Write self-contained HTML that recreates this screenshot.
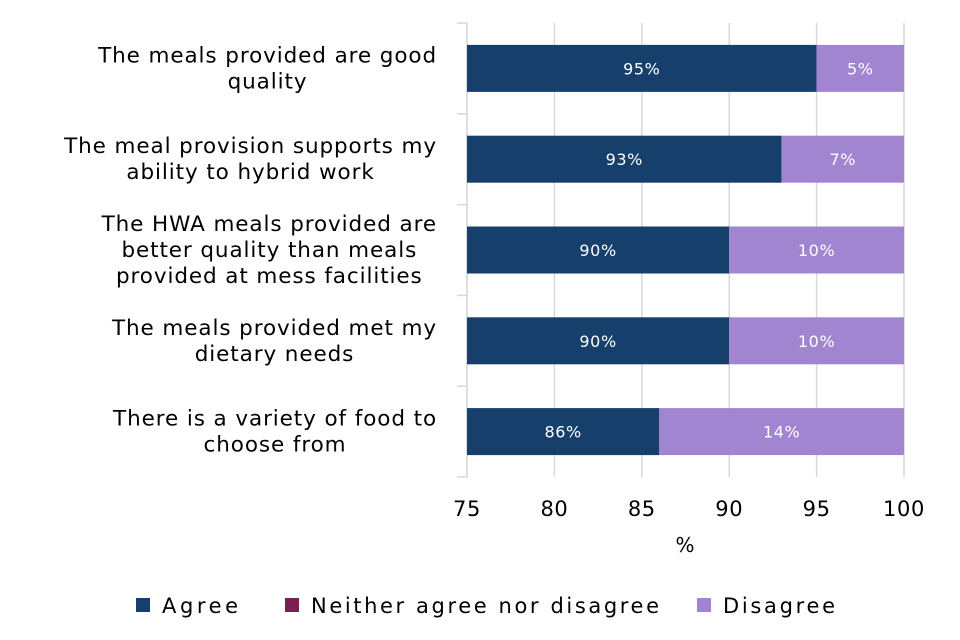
<!DOCTYPE html>
<html><head><meta charset="utf-8"><style>
body{margin:0;background:#fff;font-family:"DejaVu Sans","Liberation Sans",sans-serif}
svg{display:block}
text{font-family:"DejaVu Sans","Liberation Sans",sans-serif}
</style></head><body>
<svg id="chart" width="960" height="640"></svg>
<script>
const categories=[["The meals provided are good","quality"],["The meal provision supports my","ability to hybrid work"],["The HWA meals provided are","better quality than meals","provided at mess facilities"],["The meals provided met my","dietary needs"],["There is a variety of food to","choose from"]];
const agree=[95,93,90,90,86];
const neither=[0,0,0,0,0];
const disagree=[5,7,10,10,14];
const ticks=[75,80,85,90,95,100];
const svg=document.getElementById('chart');
const NS='http://www.w3.org/2000/svg';
const x0=467,x1=904,yTop=23,yBot=477,xmin=75,xmax=100;
const xs=v=>x0+(v-xmin)/(xmax-xmin)*(x1-x0);
const band=(yBot-yTop)/categories.length;
function mk(t,a,p){const e=document.createElementNS(NS,t);for(const k in a)e.setAttribute(k,a[k]);(p||svg).appendChild(e);return e;}
ticks.forEach((t,i)=>{
 const g=mk('line',{x1:xs(t),x2:xs(t),y1:yTop,y2:yBot,stroke:'#d9d9d9','stroke-width':1.5});
 
 
 const l=mk('text',{x:xs(t),y:516,'text-anchor':'middle','font-size':21,'letter-spacing':0.6,fill:'#000'});
 l.textContent=t;
 
 
});
const ax=mk('line',{x1:x0,x2:x0,y1:yTop,y2:yBot,stroke:'#d9d9d9','stroke-width':1.5});


for(let i=0;i<=categories.length;i++){
 const y=yTop+i*band;
 const tk=mk('line',{x1:x0-10,x2:x0,y1:y,y2:y,stroke:'#d9d9d9','stroke-width':1.5});
 
 
}
categories.forEach((c,i)=>{
 const cy=yTop+band*(i+0.5), h=47;
 const a=mk('rect',{x:xs(xmin),y:cy-h/2,width:xs(agree[i])-xs(xmin),height:h,fill:'#16406b'});
 
 
 const ns=agree[i],ne=agree[i]+neither[i];
 const n=mk('rect',{x:xs(ns),y:cy-h/2,width:xs(ne)-xs(ns),height:h,fill:'#7a1f52'});
 
 
 const d=mk('rect',{x:xs(ne),y:cy-h/2,width:xs(ne+disagree[i])-xs(ne),height:h,fill:'#a185d0'});
 
 
 const at=mk('text',{x:(xs(xmin)+xs(agree[i]))/2,y:cy+6,'text-anchor':'middle','font-size':16,'letter-spacing':0.6,fill:'#fff'});
 at.textContent=agree[i]+'%';
 
 
 const dt=mk('text',{x:(xs(ne)+xs(ne+disagree[i]))/2,y:cy+6,'text-anchor':'middle','font-size':16,'letter-spacing':0.6,fill:'#fff'});
 dt.textContent=disagree[i]+'%';
 
 
 const lh=26, start=cy-(c.length-1)*lh/2+7;
 const tx=mk('text',{'text-anchor':'middle','font-size':21.5,'letter-spacing':0.9,fill:'#000'});
 
 
 const spans=c.map((line,j)=>{const s=mk('tspan',{x:0,y:start+j*lh},tx);s.textContent=line;return s;});
 let mw=0;spans.forEach(s=>{mw=Math.max(mw,s.getComputedTextLength());});
 const cx=437-mw/2;
 spans.forEach(s=>s.setAttribute('x',cx));
});
const xt=mk('text',{x:685,y:552,'text-anchor':'middle','font-size':20,fill:'#000'});
xt.textContent='%';


const legend=[['Agree','#16406b',136,76],['Neither agree nor disagree','#7a1f52',285,348],['Disagree','#a185d0',697,112]];
legend.forEach(([t,c,x,w])=>{
 const g=mk('g',{});
 
 
 mk('rect',{x:x,y:598,width:14,height:14,fill:c},g);
 const tx=mk('text',{x:x+26,y:613,'font-size':21,fill:'#000',textLength:w,lengthAdjust:'spacing'},g);
 tx.textContent=t;
});
</script>
</body></html>
